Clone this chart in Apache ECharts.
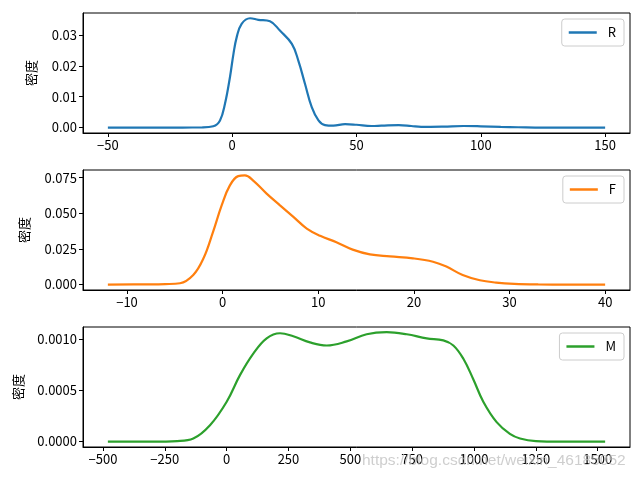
<!DOCTYPE html>
<html>
<head>
<meta charset="utf-8">
<script src="https://cdn.jsdelivr.net/npm/echarts@6/dist/echarts.min.js"></script>
<style>html,body{margin:0;padding:0;background:#fff;}#c{width:644px;height:480px;}</style>
</head>
<body>
<div id="c"></div>
<script>
// ---- data ----
const rX = [-50, -20, -12, -7.6, -4.9, -2.9, -0.9, 0.5, 1.8, 3.8, 7.2, 10.5, 15.2, 19.2, 24, 26.6, 29.3, 32, 34.7, 37.3, 40.7, 45.4, 50, 56, 60, 67, 72, 76, 85, 93, 100, 108, 115, 125, 150];
const rY = [0, 0, 0.00003, 0.0004, 0.0023, 0.0077, 0.0163, 0.0238, 0.0292, 0.0336, 0.0354, 0.0349, 0.0344, 0.0314, 0.0271, 0.0217, 0.0141, 0.0066, 0.0023, 0.0008, 0.0006, 0.0011, 0.0009, 0.0005, 0.0006, 0.0008, 0.0005, 0.0002, 0.0003, 0.0005, 0.0004, 0.0002, 0.0001, 0, 0];
const fX = [-12, -8, -6, -4.46, -3.07, -2.0, -1.0, -0.1, 0.76, 1.63, 2.33, 3.2, 4.6, 6.0, 7.4, 8.8, 10.2, 11.9, 13.6, 15.4, 17.5, 19.9, 22, 23.4, 25.1, 26.9, 28.6, 30.5, 33, 36, 40];
const fY = [0, 0.0001, 0.0003, 0.0009, 0.0067, 0.0184, 0.037, 0.0556, 0.0696, 0.0761, 0.0766, 0.073, 0.0638, 0.0556, 0.0475, 0.0393, 0.0342, 0.0297, 0.0245, 0.0212, 0.0198, 0.0184, 0.016, 0.0126, 0.0067, 0.003, 0.0014, 0.0005, 0.0001, 0, 0];
const mX = [-480, -300, -200, -134.7, -67.2, 0.3, 54, 107.8, 161.8, 215.8, 269.6, 337, 404.5, 485.3, 566, 647, 728, 808.7, 876, 916.5, 957, 997, 1037.5, 1091.5, 1145, 1186, 1250, 1350, 1530];
const mY = [0, 0, 0.000005, 0.00003, 0.00016, 0.00039, 0.00065, 0.00086, 0.00101, 0.00106, 0.00103, 0.00097, 0.00094, 0.00098, 0.00105, 0.00107, 0.00105, 0.00101, 0.00099, 0.00094, 0.00081, 0.00061, 0.00039, 0.00019, 0.000075, 0.00003, 0.000005, 0, 0];

const names = ['R', 'F', 'M'];
const colors = ['#1f77b4', '#ff7f0e', '#2ca02c'];
const xTicks = [[-50, 0, 50, 100, 150], [-10, 0, 10, 20, 30, 40], [-500, -250, 0, 250, 500, 750, 1000, 1250, 1500]];
const yTicks = [[0, 0.01, 0.02, 0.03], [0, 0.025, 0.05, 0.075], [0, 0.0005, 0.001]];
const yDecimals = [2, 3, 4];
const yLabel = '密度';
const watermark = 'https://blog.csdn.net/weixin_46185052';

// ---- layout ----
const xs = [rX, fX, mX], ys = [rY, fY, mY];
const xLim = [[-60, 160], [-14.6, 42.6], [-580.5, 1630.5]];
const yLim = [[-0.00177, 0.0371], [-0.00383, 0.0804], [-0.0000534, 0.001121]];
const tops = [13, 170, 327];
const nameGaps = [45, 52, 58];
const FONT = '"Noto Sans CJK SC", sans-serif';
const fmtX = v => (v < 0 ? '\u2212' + Math.abs(v) : String(v));

const grid = [], xAxis = [], yAxis = [], series = [], legend = [];
for (let i = 0; i < 3; i++) {
  grid.push({left: 83, width: 547, top: tops[i], height: 120, show: true, borderColor: '#000', borderWidth: 1, containLabel: false});
  xAxis.push({
    type: 'value', gridIndex: i, min: xLim[i][0], max: xLim[i][1],
    axisLine: {show: true, onZero: false, lineStyle: {color: '#000', width: 1}},
    axisTick: {show: true, inside: false, length: 4, lineStyle: {color: '#000', width: 1}, customValues: xTicks[i]},
    axisLabel: {show: true, margin: 6, color: '#000', fontSize: 13, fontFamily: FONT, customValues: xTicks[i], formatter: fmtX},
    splitLine: {show: false}
  });
  yAxis.push({
    type: 'value', gridIndex: i, min: yLim[i][0], max: yLim[i][1],
    name: yLabel, nameLocation: 'middle', nameGap: nameGaps[i], nameRotate: 90,
    nameTextStyle: {color: '#000', fontSize: 13, fontFamily: FONT},
    axisLine: {show: true, onZero: false, lineStyle: {color: '#000', width: 1}},
    axisTick: {show: true, inside: false, length: 4, lineStyle: {color: '#000', width: 1}, customValues: yTicks[i]},
    axisLabel: {show: true, margin: 6, color: '#000', fontSize: 13, fontFamily: FONT, customValues: yTicks[i], formatter: v => v.toFixed(yDecimals[i])},
    splitLine: {show: false}
  });
  series.push({
    name: names[i], type: 'line', xAxisIndex: i, yAxisIndex: i,
    data: xs[i].map((x, k) => [x, ys[i][k]]),
    smooth: 0.4, symbol: 'none',
    lineStyle: {color: colors[i], width: 2.2}, itemStyle: {color: colors[i]},
    silent: true, animation: false
  });
  legend.push({
    data: [{name: names[i], icon: 'rect'}], right: 20, top: tops[i] + 6, orient: 'vertical',
    itemWidth: 28, itemHeight: 2.5, padding: [7, 8, 7, 7],
    backgroundColor: 'rgba(255,255,255,0.8)', borderColor: '#cccccc', borderWidth: 1, borderRadius: 3,
    textStyle: {color: '#000', fontSize: 13, fontFamily: FONT, padding: [0, 0, 0, 6]},
    selectedMode: false
  });
}

const chart = echarts.init(document.getElementById('c'), null, {renderer: 'canvas'});
chart.setOption({
  animation: false,
  grid, xAxis, yAxis, series, legend,
  graphic: [{
    type: 'text', left: 362, top: 453, z: 100, silent: true,
    style: {text: watermark, fill: 'rgba(190,190,190,0.75)', font: '15.5px "Liberation Sans", Arial, sans-serif'}
  }]
});
</script>
</body>
</html>
